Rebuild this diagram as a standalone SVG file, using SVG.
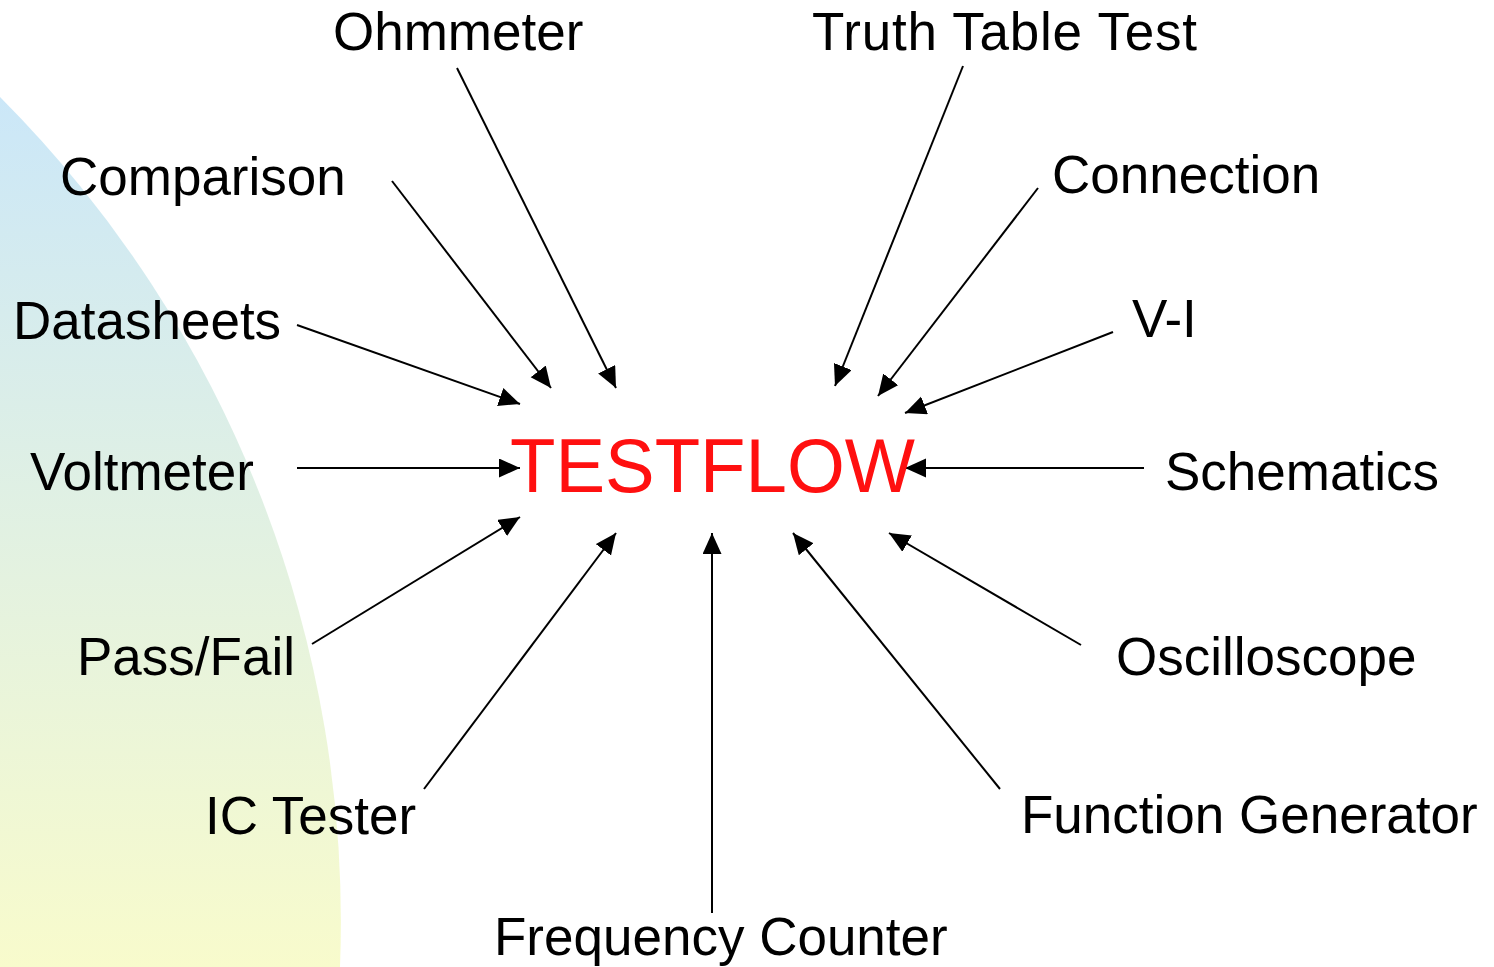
<svg xmlns="http://www.w3.org/2000/svg" width="1494" height="967" viewBox="0 0 1494 967">
<style>
.lbl{font-family:"Liberation Sans",Arial,sans-serif;font-size:53px;fill:#000}
.title{font-family:"Liberation Sans",Arial,sans-serif;font-size:76px;fill:#ff1010}
.con line{stroke:#000;stroke-width:2;marker-end:url(#arr)}
</style>
<defs>
<linearGradient id="bg" gradientUnits="userSpaceOnUse" x1="0" y1="97" x2="0" y2="967">
<stop offset="0" stop-color="#cbe7f8"/>
<stop offset="1" stop-color="#f8fbcc"/>
</linearGradient>
<marker id="arr" markerUnits="userSpaceOnUse" markerWidth="22" markerHeight="20" refX="21" refY="9.5" orient="auto">
<path d="M0,0 L21,9.5 L0,19 z" fill="#000"/>
</marker>
</defs>
<rect width="1494" height="967" fill="#fff"/>
<path d="M0,97 A1168,1168 0 0 1 340,967 L0,967 Z" fill="url(#bg)"/>
<g id="connectors" class="con">
<line x1="457" y1="68" x2="616" y2="388"/>
<line x1="392" y1="181" x2="551" y2="388"/>
<line x1="297" y1="325" x2="520" y2="404"/>
<line x1="297" y1="468" x2="520" y2="468"/>
<line x1="312" y1="644" x2="520" y2="517"/>
<line x1="424" y1="789" x2="616" y2="533"/>
<line x1="712" y1="913" x2="712" y2="533"/>
<line x1="1000" y1="789" x2="793" y2="533"/>
<line x1="1081" y1="645" x2="889" y2="533"/>
<line x1="1144" y1="468" x2="905" y2="468"/>
<line x1="1113" y1="332" x2="905" y2="413"/>
<line x1="1038" y1="188" x2="878" y2="396"/>
<line x1="963" y1="66" x2="835" y2="386"/>
</g>
<g id="testflow"><text class="title" x="510" y="492" textLength="405" lengthAdjust="spacingAndGlyphs">TESTFLOW</text></g>
<g id="ohmmeter"><text class="lbl" x="333" y="50">Ohmmeter</text></g>
<g id="truth-table-test"><text class="lbl" x="812" y="50" textLength="385">Truth Table Test</text></g>
<g id="comparison"><text class="lbl" x="60" y="195">Comparison</text></g>
<g id="connection"><text class="lbl" x="1052" y="193">Connection</text></g>
<g id="datasheets"><text class="lbl" x="13" y="339">Datasheets</text></g>
<g id="v-i"><text class="lbl" x="1132" y="337">V-I</text></g>
<g id="voltmeter"><text class="lbl" x="30" y="490">Voltmeter</text></g>
<g id="schematics"><text class="lbl" x="1165" y="490">Schematics</text></g>
<g id="pass-fail"><text class="lbl" x="77" y="675">Pass/Fail</text></g>
<g id="oscilloscope"><text class="lbl" x="1116" y="675">Oscilloscope</text></g>
<g id="ic-tester"><text class="lbl" x="205" y="834">IC Tester</text></g>
<g id="function-generator"><text class="lbl" x="1021" y="833">Function Generator</text></g>
<g id="frequency-counter"><text class="lbl" x="494" y="955">Frequency Counter</text></g>
</svg>
